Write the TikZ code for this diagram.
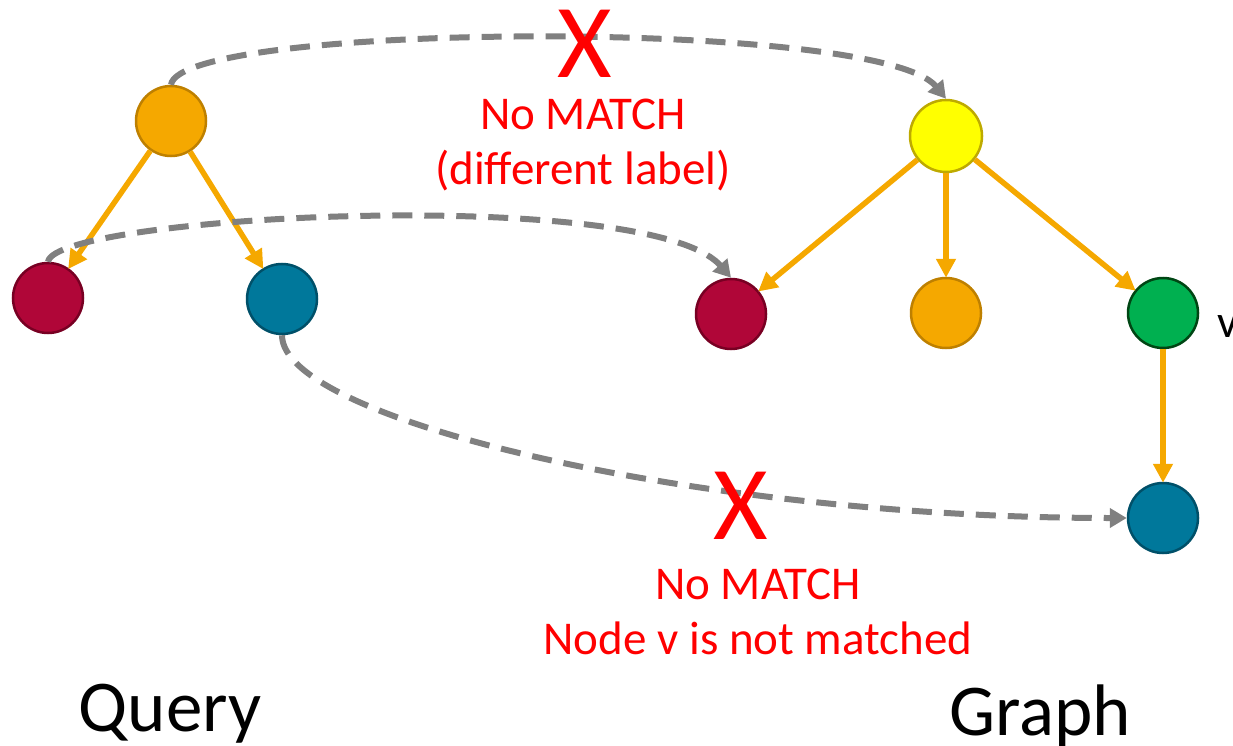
\documentclass[tikz,border=0pt]{standalone}
\usepackage{fontspec}
\setmainfont{Carlito}
\usetikzlibrary{arrows.meta}
\definecolor{orf}{RGB}{245,168,0}
\definecolor{ord}{RGB}{190,128,0}
\definecolor{rdf}{RGB}{176,6,56}
\definecolor{rdd}{RGB}{120,0,35}
\definecolor{blf}{RGB}{0,120,155}
\definecolor{bld}{RGB}{0,80,105}
\definecolor{ylf}{RGB}{255,255,0}
\definecolor{yld}{RGB}{190,170,0}
\definecolor{grf}{RGB}{0,176,80}
\definecolor{grd}{RGB}{0,70,20}
\definecolor{dgray}{RGB}{128,128,128}
\definecolor{xred}{RGB}{255,0,0}
\tikzset{
  vnode/.style={circle,minimum size=70pt,inner sep=0pt,line width=2.5pt},
  tree/.style={orf,line width=5.5pt,-{Triangle[length=19pt,width=19pt]},shorten >=-1pt},
  match/.style={dgray,line width=6pt,dash pattern=on 20pt off 12pt,-{Triangle[length=17pt,width=19pt]}},
  redtxt/.style={xred,font=\fontsize{47}{55}\selectfont,align=center,inner sep=0pt},
  bigx/.style={xred,font=\fontsize{105}{110}\selectfont,inner sep=0pt,anchor=base},
  title/.style={font=\fontsize{73}{80}\selectfont,inner sep=0pt,anchor=base}
}
\begin{document}
\begin{tikzpicture}[x=1pt,y=-1pt]
\useasboundingbox (0,0) rectangle (1233,746);
% query
\node[vnode,fill=orf,draw=ord] (qo) at (171,121) {};
\node[vnode,fill=rdf,draw=rdd] (qr) at (48,298) {};
\node[vnode,fill=blf,draw=bld] (qb) at (282,299) {};
% graph
\node[vnode,fill=ylf,draw=yld,minimum size=72pt] (gy) at (946,136) {};
\node[vnode,fill=rdf,draw=rdd] (gr) at (731,314) {};
\node[vnode,fill=orf,draw=ord] (go) at (946,313) {};
\node[vnode,fill=grf,draw=grd] (gg) at (1163,313) {};
\node[vnode,fill=blf,draw=bld] (gb) at (1163,518) {};
% tree edges
\draw[tree] (qo) -- (qr);
\draw[tree] (qo) -- (qb);
\draw[tree] (gy) -- (gr);
\draw[tree] (gy) -- (go);
\draw[tree] (gy) -- (gg);
\draw[tree] (gg) -- (gb);
% matching attempts
\draw[match] (qo.north) .. controls (180,22) and (880,18) .. (gy.north);
\draw[match] (qr.north) .. controls (55,215) and (650,185) .. (gr.north);
\draw[match] (qb.south) .. controls (282,420) and (700,518) .. (gb.west);
% labels
\node[bigx] (x1) at (585,78) {X};
\node[redtxt] (t1) at (583,145) {No MATCH\\(different label)};
\node[bigx] (x2) at (741,539) {X};
\node[redtxt] (t2) at (758,612) {No MATCH\\Node v is not matched};
\node[font=\fontsize{46}{55}\selectfont,inner sep=0pt,anchor=base west] (v) at (1217,337) {v};
\node[title] (q) at (170,731) {Query};
\node[title] (g) at (1040,735) {Graph};
\end{tikzpicture}
\end{document}
